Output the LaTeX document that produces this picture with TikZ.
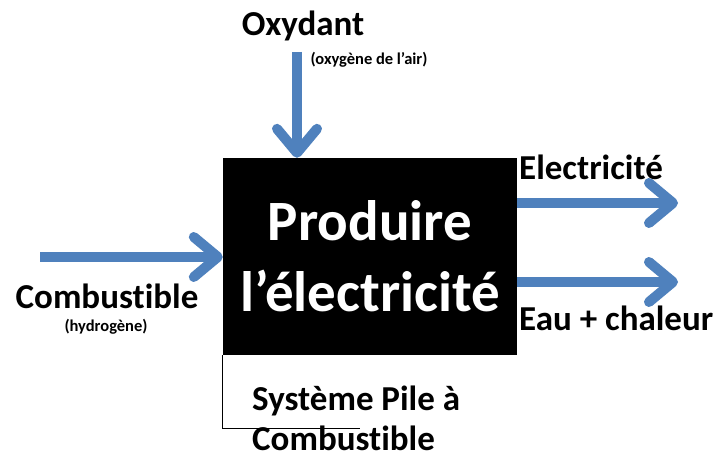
\documentclass[tikz,border=0pt]{standalone}
\usepackage{fontspec}
\setmainfont{Carlito}[RawFeature={-liga,-clig,-calt,-dlig}]
\usetikzlibrary{arrows.meta}
\definecolor{flux}{HTML}{4F81BD}
\tikzstyle{fonction} = [rectangle, fill=black, text=white, minimum width=294pt, minimum height=197pt, inner sep=0pt, align=center, font=\fontsize{57}{71}\selectfont\bfseries]
\tikzstyle{lbl} = [inner sep=0pt, font=\fontsize{35}{40}\selectfont\bfseries]
\tikzstyle{sublbl} = [inner sep=0pt, font=\fontsize{16.5}{19}\selectfont\bfseries]
\tikzstyle{fl} = [draw=flux, line width=10pt, -{Straight Barb[length=24pt, width=40pt, round]}]

\begin{document}
\begin{tikzpicture}[x=1pt, y=-1pt]
\useasboundingbox (0,0) rectangle (716,460);

\node (box) [fonction] at (370,256.5) {Produire\\l’électricité};

\node (oxy) [lbl] at (303,26) {Oxydant};
\node (oxysub) [sublbl] at (369,60) {(oxygène de l’air)};
\node (comb) [lbl] at (107,296) {Combustible};
\node (combsub) [sublbl] at (106,327) {(hydrogène)};
\node (elec) [lbl, anchor=west] at (519,167) {Electricité};
\node (eau) [lbl, anchor=west] at (519,318) {Eau + chaleur};
\node (sys) [lbl, anchor=west, align=left] at (252,418) {Système Pile à\\Combustible};

\coordinate (oxin) at (297,52);
\coordinate (combin) at (40,257);
\coordinate (elecout) at (678,203);
\coordinate (eauout) at (678,282);

\draw[fl] (oxin) -- (oxin |- box.north);
\draw[fl] (combin) -- (combin -| box.west);
\draw[fl] (box.east |- elecout) -- (elecout);
\draw[fl] (box.east |- eauout) -- (eauout);

\draw[line width=1.3pt] (box.south west) -- ++(0,73) -- ++(137,0);

\end{tikzpicture}
\end{document}
